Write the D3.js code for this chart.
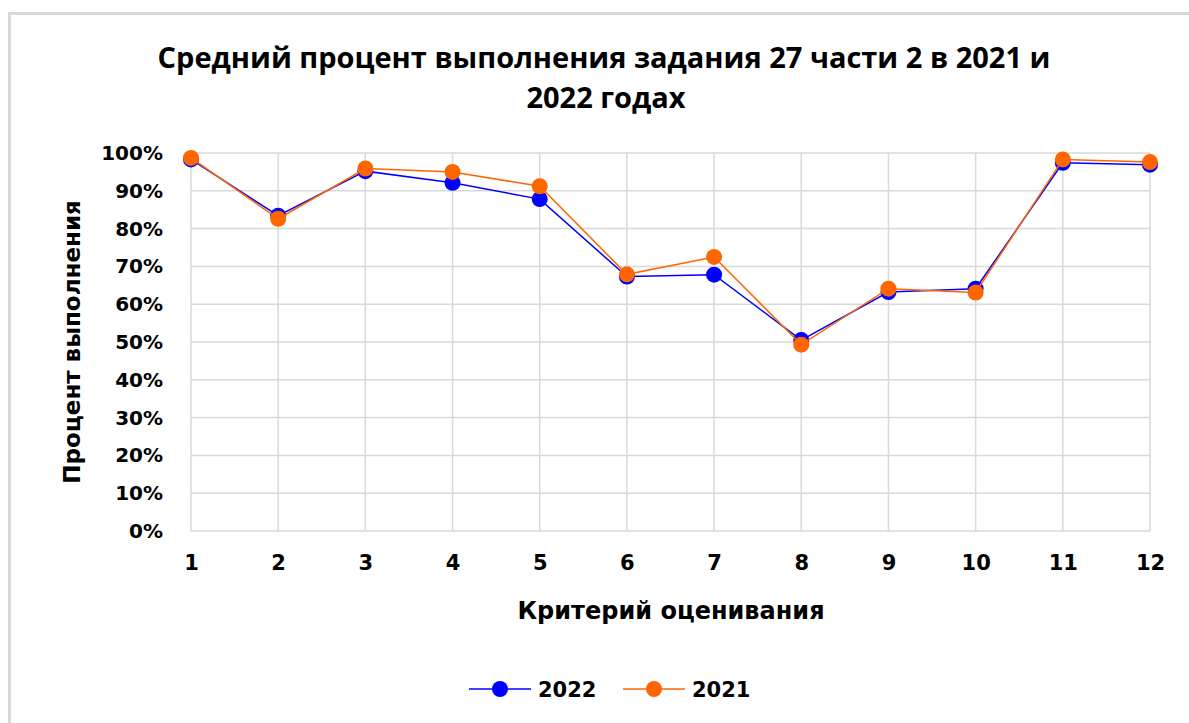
<!DOCTYPE html>
<html>
<head>
<meta charset="utf-8">
<script src="https://cdnjs.cloudflare.com/ajax/libs/d3/7.8.5/d3.min.js"></script>
<style>
  body { margin: 0; background: #fff; }
  text { font-family: "DejaVu Sans", sans-serif; font-weight: bold; fill: #000; }
</style>
</head>
<body>
<div id="container"></div>
<script>
// chart data
var criteria = [1, 2, 3, 4, 5, 6, 7, 8, 9, 10, 11, 12];
var values2022 = [98.3, 83.4, 95.2, 92.1, 87.8, 67.3, 67.8, 50.5, 63.2, 64.1, 97.4, 96.9];
var values2021 = [98.7, 82.6, 95.9, 95.0, 91.2, 67.9, 72.5, 49.3, 64.1, 63.1, 98.3, 97.6];
var yTicks = [0, 10, 20, 30, 40, 50, 60, 70, 80, 90, 100];
var seriesNames = ["2022", "2021"];

var width = 1189, height = 723;

var svg = d3.select("#container").append("svg")
    .attr("width", width)
    .attr("height", height);

// outer chart border (cropped at right and bottom)
svg.append("rect")
    .attr("x", 9.5).attr("y", 13.5)
    .attr("width", 1200).attr("height", 800)
    .style("fill", "#fff")
    .style("stroke", "#d9d9d9")
    .style("stroke-width", 3);

// plot area
var plotLeft = 191, plotRight = 1150, plotTop = 153, plotBottom = 531;

var x = d3.scalePoint()
    .domain(criteria)
    .range([plotLeft, plotRight]);

var y = d3.scaleLinear()
    .domain([0, 100])
    .range([plotBottom, plotTop]);

// gridlines
var grid = svg.append("g");
grid.selectAll("line.h")
    .data(yTicks)
    .enter().append("line")
    .attr("class", "h")
    .attr("x1", plotLeft).attr("x2", plotRight)
    .attr("y1", function(d) { return y(d); })
    .attr("y2", function(d) { return y(d); })
    .style("stroke", "#d9d9d9")
    .style("stroke-width", 1.5);
grid.selectAll("line.v")
    .data(criteria)
    .enter().append("line")
    .attr("class", "v")
    .attr("x1", function(d) { return x(d); })
    .attr("x2", function(d) { return x(d); })
    .attr("y1", plotTop).attr("y2", plotBottom)
    .style("stroke", "#d9d9d9")
    .style("stroke-width", 1.5);

// axes (labels only)
var yAxis = svg.append("g")
    .attr("transform", "translate(" + plotLeft + ",0)")
    .call(d3.axisLeft(y).tickValues(yTicks).tickSize(0).tickPadding(28)
        .tickFormat(function(d) { return d + "%"; }));
yAxis.select(".domain").remove();
yAxis.selectAll("text")
    .style("font-size", "20px")
    .style("font-family", "'DejaVu Sans', sans-serif")
    .style("font-weight", "bold");

var xAxis = svg.append("g")
    .attr("transform", "translate(0," + plotBottom + ")")
    .call(d3.axisBottom(x).tickSize(0).tickPadding(24));
xAxis.select(".domain").remove();
xAxis.selectAll("text")
    .style("font-size", "21px")
    .style("font-family", "'DejaVu Sans', sans-serif")
    .style("font-weight", "bold");

// series
var series = [
    { name: seriesNames[0], values: values2022, color: "#0000ff" },
    { name: seriesNames[1], values: values2021, color: "#ff6600" }
];

var line = d3.line()
    .x(function(d, i) { return x(criteria[i]); })
    .y(function(d) { return y(d); });

series.forEach(function(s) {
    var g = svg.append("g");
    g.append("path")
        .attr("d", line(s.values))
        .style("fill", "none")
        .style("stroke", s.color)
        .style("stroke-width", 1.5);
    g.selectAll("circle")
        .data(s.values)
        .enter().append("circle")
        .attr("cx", function(d, i) { return x(criteria[i]); })
        .attr("cy", function(d) { return y(d); })
        .attr("r", 8)
        .style("fill", s.color);
});

// title
svg.append("text")
    .attr("x", 604).attr("y", 68)
    .attr("text-anchor", "middle")
    .style("font-family", "'Open Sans', sans-serif")
    .style("font-size", "29px")
    .text("Средний процент выполнения задания 27 части 2 в 2021 и");
svg.append("text")
    .attr("x", 606).attr("y", 108)
    .attr("text-anchor", "middle")
    .style("font-family", "'Open Sans', sans-serif")
    .style("font-size", "29px")
    .text("2022 годах");

// axis titles
svg.append("text")
    .attr("transform", "translate(80,342) rotate(-90)")
    .attr("text-anchor", "middle")
    .style("font-size", "23px")
    .text("Процент выполнения");
svg.append("text")
    .attr("x", 671).attr("y", 619)
    .attr("text-anchor", "middle")
    .style("font-size", "24px")
    .text("Критерий оценивания");

// legend
var legendX = [469, 623];
series.forEach(function(s, i) {
    var lg = svg.append("g").attr("transform", "translate(" + legendX[i] + ",689)");
    lg.append("line")
        .attr("x1", 0).attr("x2", 62)
        .style("stroke", s.color)
        .style("stroke-width", 1.5);
    lg.append("circle")
        .attr("cx", 31).attr("r", 8)
        .style("fill", s.color);
    lg.append("text")
        .attr("x", 69).attr("y", 8)
        .style("font-size", "21px")
        .text(s.name);
});
</script>
</body>
</html>
